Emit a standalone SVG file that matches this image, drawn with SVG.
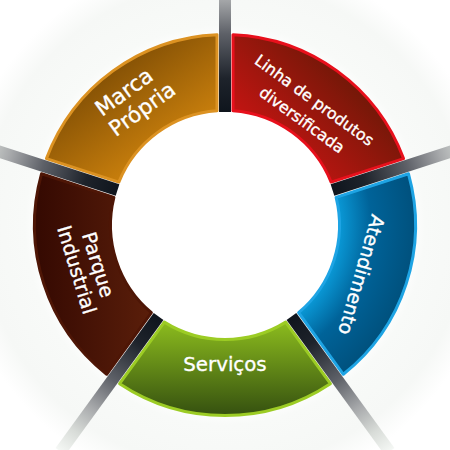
<svg xmlns="http://www.w3.org/2000/svg" width="450" height="450" viewBox="0 0 450 450">
  <defs>
    <radialGradient id="bg" cx="225" cy="225" r="270" gradientUnits="userSpaceOnUse">
      <stop offset="0" stop-color="#ffffff"/>
      <stop offset="0.68" stop-color="#ffffff"/>
      <stop offset="0.74" stop-color="#f8faf8"/>
      <stop offset="0.9" stop-color="#f6f8f6"/>
      <stop offset="1" stop-color="#ffffff"/>
    </radialGradient>
    <linearGradient id="gOrange" x1="110" y1="50" x2="190" y2="160" gradientUnits="userSpaceOnUse">
      <stop offset="0" stop-color="#7a4a04"/>
      <stop offset="1" stop-color="#d98a0e"/>
    </linearGradient>
    <linearGradient id="gRed" x1="345" y1="75" x2="255" y2="165" gradientUnits="userSpaceOnUse">
      <stop offset="0" stop-color="#741808"/>
      <stop offset="1" stop-color="#d41414"/>
    </linearGradient>
    <radialGradient id="gBlue" cx="225" cy="225" r="192" gradientUnits="userSpaceOnUse">
      <stop offset="0.59" stop-color="#0a9ad8"/>
      <stop offset="0.76" stop-color="#006399"/>
      <stop offset="1" stop-color="#00507c"/>
    </radialGradient>
    <linearGradient id="gGreen" x1="0" y1="322" x2="0" y2="412" gradientUnits="userSpaceOnUse">
      <stop offset="0" stop-color="#8cbc1e"/>
      <stop offset="1" stop-color="#385410"/>
    </linearGradient>
    <linearGradient id="gBrown" x1="40" y1="0" x2="150" y2="0" gradientUnits="userSpaceOnUse">
      <stop offset="0" stop-color="#360a02"/>
      <stop offset="1" stop-color="#5a1e0a"/>
    </linearGradient>
    <linearGradient id="gSpoke" x1="0" y1="0" x2="1" y2="0">
      <stop offset="0" stop-color="#0f151d"/>
      <stop offset="0.2" stop-color="#1e232b"/>
      <stop offset="0.47" stop-color="#5e6168"/>
      <stop offset="0.68" stop-color="#a8aaac"/>
      <stop offset="0.85" stop-color="#d8dcd8"/>
      <stop offset="1" stop-color="#f5f8f5"/>
    </linearGradient>
  </defs>
  <style>
    .seg { stroke-width: 3; stroke-linejoin: round; }
    .lbl { fill: #ffffff; stroke: #ffffff; stroke-width: 0.35; font-family: "DejaVu Sans", "Liberation Sans", sans-serif; text-anchor: middle; }
    .spoke { fill: url(#gSpoke); }
  </style>

  <rect x="0" y="0" width="450" height="450" fill="url(#bg)"/>

  <g id="node-marca">
    <path class="seg" fill="url(#gOrange)" stroke="#dc9222" d="M46.45,158.57 A190.5,190.5 0 0 1 217,34.67 L217,110.78 A114.5,114.5 0 0 0 118.84,182.09 Z"/>
    <text class="lbl" font-size="21.5" transform="translate(128.3,97.9) rotate(-36)">Marca</text>
    <text class="lbl" font-size="21.5" transform="translate(146.5,115) rotate(-36)">Própria</text>
  </g>

  <g id="node-linha">
    <path class="seg" fill="url(#gRed)" stroke="#e8101c" d="M233,34.67 A190.5,190.5 0 0 1 403.55,158.57 L331.16,182.09 A114.5,114.5 0 0 0 233,110.78 Z"/>
    <text class="lbl" font-size="15.8" transform="translate(311.1,104.7) rotate(36)">Linha de produtos</text>
    <text class="lbl" font-size="15.8" transform="translate(298.8,124.4) rotate(36)">diversificada</text>
  </g>

  <g id="node-atendimento">
    <path class="seg" fill="url(#gBlue)" stroke="#1ea4e4" d="M408.49,173.79 A190.5,190.5 0 0 1 343.34,374.28 L298.61,312.71 A114.5,114.5 0 0 0 336.10,197.31 Z"/>
    <text class="lbl" font-size="19.2" transform="translate(355,273) rotate(106)">Atendimento</text>
  </g>

  <g id="node-servicos">
    <path class="seg" fill="url(#gGreen)" stroke="#9ccc24" d="M330.40,383.68 A190.5,190.5 0 0 1 119.60,383.68 L164.33,322.11 A114.5,114.5 0 0 0 285.67,322.11 Z"/>
    <text class="lbl" font-size="19.8" x="225" y="371">Serviços</text>
  </g>

  <g id="node-parque">
    <path class="seg" fill="url(#gBrown)" stroke="#4e1606" d="M106.66,374.28 A190.5,190.5 0 0 1 41.51,173.79 L113.90,197.31 A114.5,114.5 0 0 0 151.39,312.71 Z"/>
    <text class="lbl" font-size="19.5" transform="translate(91.7,266.7) rotate(73)">Parque</text>
    <text class="lbl" font-size="19.5" transform="translate(70.3,271.7) rotate(73)">Industrial</text>
  </g>

  <g id="connectors">
    <rect class="spoke" x="338" y="219" width="167" height="12" transform="rotate(-90 225 225)"/>
    <rect class="spoke" x="338" y="219" width="167" height="12" transform="rotate(-18 225 225)"/>
    <rect class="spoke" x="338" y="219" width="167" height="12" transform="rotate(54 225 225)"/>
    <rect class="spoke" x="338" y="219" width="167" height="12" transform="rotate(126 225 225)"/>
    <rect class="spoke" x="338" y="219" width="167" height="12" transform="rotate(198 225 225)"/>
  </g>
</svg>
